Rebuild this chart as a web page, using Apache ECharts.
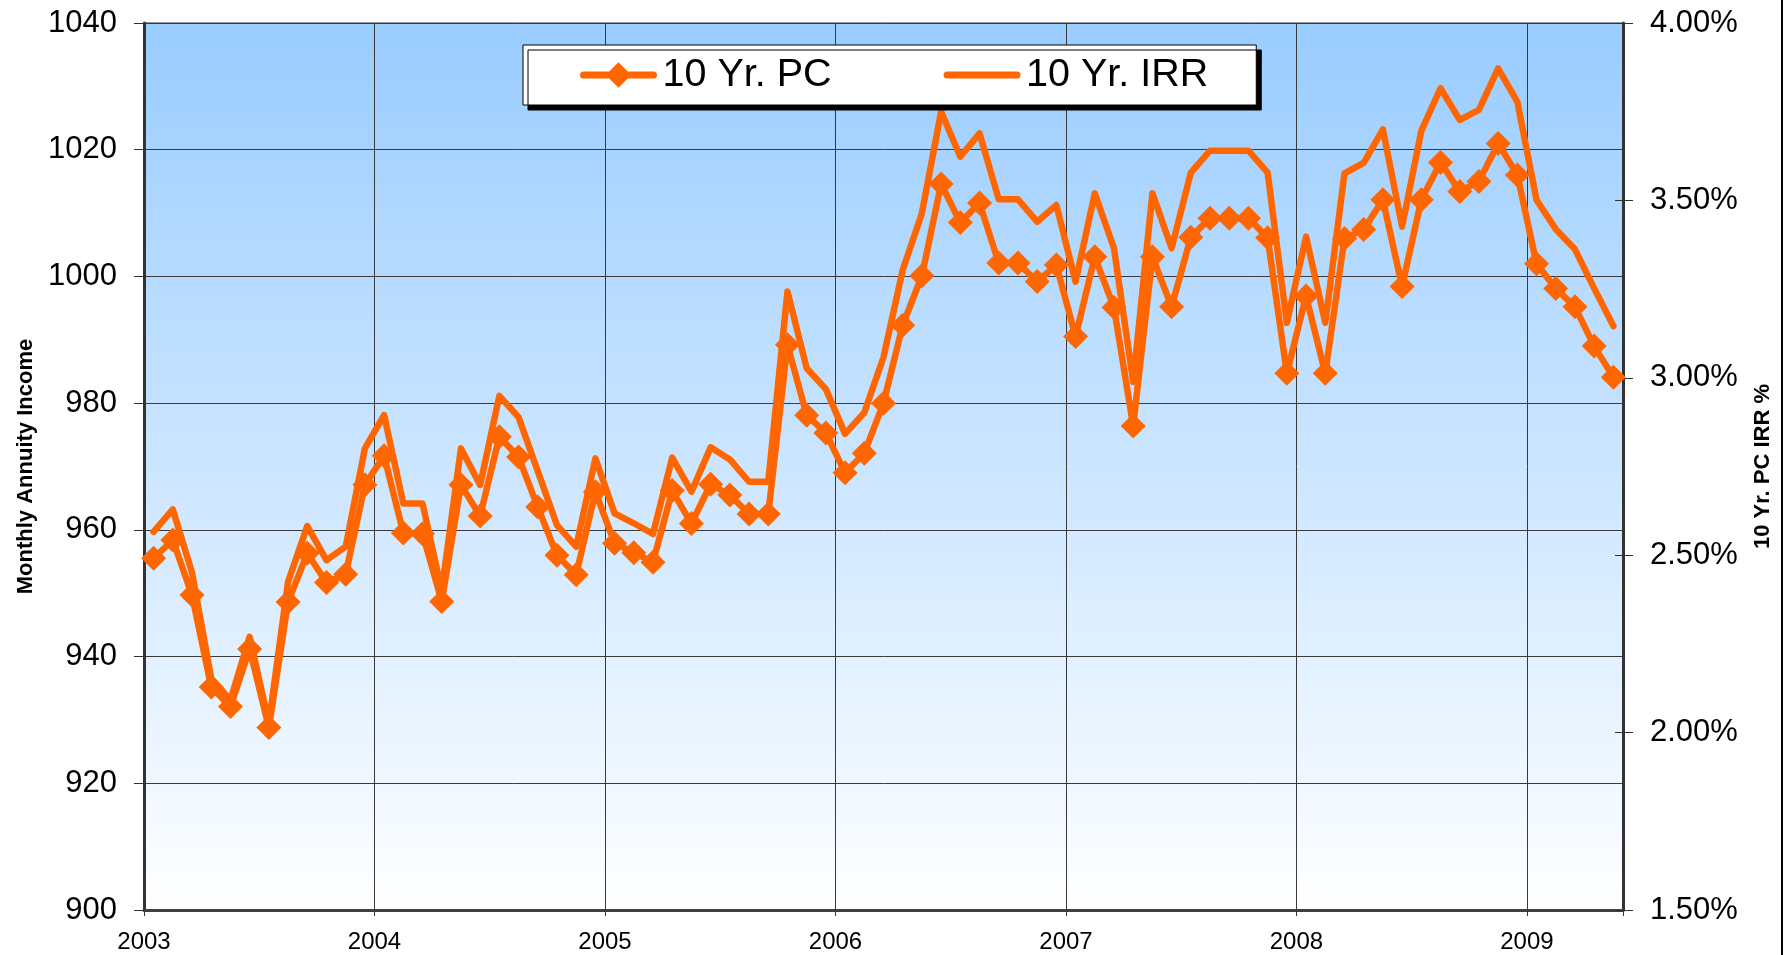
<!DOCTYPE html>
<html>
<head>
<meta charset="utf-8">
<script src="https://cdn.jsdelivr.net/npm/echarts@6/dist/echarts.min.js"></script>
<style>
html,body{margin:0;padding:0;background:#fff;}
#chart{width:1790px;height:955px;}
</style>
</head>
<body>
<div id="chart"></div>
<script>
// Monthly categories, Jan 2003 .. May 2009
const months = [
  '2003-01','2003-02','2003-03','2003-04','2003-05','2003-06','2003-07','2003-08','2003-09','2003-10','2003-11','2003-12',
  '2004-01','2004-02','2004-03','2004-04','2004-05','2004-06','2004-07','2004-08','2004-09','2004-10','2004-11','2004-12',
  '2005-01','2005-02','2005-03','2005-04','2005-05','2005-06','2005-07','2005-08','2005-09','2005-10','2005-11','2005-12',
  '2006-01','2006-02','2006-03','2006-04','2006-05','2006-06','2006-07','2006-08','2006-09','2006-10','2006-11','2006-12',
  '2007-01','2007-02','2007-03','2007-04','2007-05','2007-06','2007-07','2007-08','2007-09','2007-10','2007-11','2007-12',
  '2008-01','2008-02','2008-03','2008-04','2008-05','2008-06','2008-07','2008-08','2008-09','2008-10','2008-11','2008-12',
  '2009-01','2009-02','2009-03','2009-04','2009-05'
];
const yearLabels = ['2003','2004','2005','2006','2007','2008','2009'];

// 10 Yr. PC — monthly annuity income (left axis)
const pcValues = [
  955.5, 958.4, 949.7, 935.2, 932.1, 941.2, 928.8, 948.6, 956.3, 951.7, 953.0, 967.1,
  971.7, 959.5, 959.4, 948.7, 967.1, 962.2, 974.7, 971.5, 963.6, 956.0, 952.9, 966.0,
  957.9, 956.4, 954.9, 966.2, 961.0, 967.2, 965.5, 962.5, 962.5, 989.2, 978.1, 975.3,
  969.0, 972.1, 980.0, 992.3, 1000.1, 1014.6, 1008.5, 1011.6, 1002.1, 1002.1, 999.2, 1001.8,
  990.5, 1003.1, 995.1, 976.4, 1003.1, 995.2, 1006.2, 1009.2, 1009.2, 1009.2, 1006.1, 984.7,
  996.9, 984.7, 1006.0, 1007.4, 1012.1, 998.4, 1012.1, 1018.0, 1013.4, 1015.0, 1021.0, 1016.0,
  1002.0, 998.1, 995.2, 989.0, 984.1
];

// 10 Yr. IRR — percent (right axis)
const irrValues = [
  2.566, 2.629, 2.451, 2.153, 2.092, 2.270, 2.026, 2.425, 2.582, 2.486, 2.524, 2.801,
  2.895, 2.646, 2.646, 2.400, 2.801, 2.698, 2.949, 2.889, 2.737, 2.585, 2.524, 2.773,
  2.618, 2.590, 2.560, 2.775, 2.679, 2.804, 2.770, 2.707, 2.707, 3.243, 3.027, 2.968,
  2.842, 2.902, 3.058, 3.304, 3.464, 3.750, 3.623, 3.689, 3.503, 3.503, 3.440, 3.487,
  3.271, 3.520, 3.365, 2.989, 3.520, 3.365, 3.578, 3.640, 3.640, 3.640, 3.578, 3.155,
  3.398, 3.155, 3.576, 3.606, 3.700, 3.426, 3.696, 3.816, 3.727, 3.755, 3.872, 3.778,
  3.501, 3.419, 3.362, 3.252, 3.146
];

const leftTicks = {min: 900, max: 1040, interval: 20};
const rightTicks = {min: 1.5, max: 4.0, interval: 0.5};

const FONT = '"Liberation Sans", Arial, sans-serif';
const ORANGE = '#FF6600';

const chart = echarts.init(document.getElementById('chart'), null, {renderer: 'canvas'});
chart.setOption({
  animation: false,
  backgroundColor: '#ffffff',
  textStyle: {fontFamily: FONT},
  grid: {
    left: 144, right: 167, top: 23, bottom: 45,
    outerBoundsMode: 'none',
    containLabel: false,
    show: true,
    borderColor: '#9a9a9a',
    borderWidth: 2,
    backgroundColor: {
      type: 'linear', x: 0, y: 0, x2: 0, y2: 1,
      colorStops: [
        {offset: 0, color: '#99CCFF'},
        {offset: 1, color: '#FFFFFF'}
      ]
    }
  },
  legend: {
    left: 523, top: 45,
    orient: 'horizontal',
    padding: [10, 48, 10, 57],
    itemGap: 112,
    itemWidth: 70,
    itemHeight: 32,
    backgroundColor: '#ffffff',
    borderColor: '#000000',
    borderWidth: 1,
    borderRadius: 0,
    shadowColor: '#000000',
    shadowBlur: 0,
    shadowOffsetX: 5,
    shadowOffsetY: 5,
    lineStyle: {width: 7, cap: 'round'},
    textStyle: {fontFamily: FONT, fontSize: 39.5, lineHeight: 32, color: '#000', padding: [0, 0, 0, 4]},
    data: [
      {name: '10 Yr. PC'},
      {name: '10 Yr. IRR', itemStyle: {opacity: 0}}
    ]
  },
  xAxis: [
    {
      type: 'category',
      data: months,
      boundaryGap: true,
      show: false
    },
    {
      type: 'value',
      min: 0, max: months.length, interval: 12,
      position: 'bottom',
      axisLine: {show: true, lineStyle: {color: '#404040', width: 3}},
      axisTick: {show: true, inside: false, length: 6, lineStyle: {color: '#333', width: 1}},
      axisLabel: {
        show: true, margin: 20, fontSize: 24, color: '#000', fontFamily: FONT,
        formatter: v => (v % 12 === 0 ? yearLabels[v / 12] || '' : '')
      },
      splitLine: {show: true, lineStyle: {color: '#3a3a3a', width: 1}}
    }
  ],
  yAxis: [
    {
      type: 'value',
      position: 'left',
      min: leftTicks.min, max: leftTicks.max, interval: leftTicks.interval,
      name: 'Monthly Annuity Income',
      nameLocation: 'middle',
      nameGap: 106,
      nameTextStyle: {fontFamily: FONT, fontSize: 22, fontWeight: 'bold', color: '#000'},
      axisLine: {show: true, lineStyle: {color: '#333', width: 3}},
      axisTick: {show: true, length: 10, lineStyle: {color: '#333', width: 1}},
      axisLabel: {margin: 27, fontSize: 31, color: '#000', fontFamily: FONT,
        formatter: v => String(v)},
      splitLine: {show: true, lineStyle: {color: '#3a3a3a', width: 1}}
    },
    {
      type: 'value',
      position: 'right',
      min: rightTicks.min, max: rightTicks.max, interval: rightTicks.interval,
      name: '10 Yr. PC IRR %',
      nameLocation: 'middle',
      nameGap: 129,
      nameTextStyle: {fontFamily: FONT, fontSize: 22, fontWeight: 'bold', color: '#000'},
      axisLine: {show: true, lineStyle: {color: '#333', width: 3}},
      axisTick: {show: true, length: 10, lineStyle: {color: '#333', width: 1}},
      axisLabel: {margin: 27, fontSize: 31, color: '#000', fontFamily: FONT,
        formatter: v => v.toFixed(2) + '%'},
      splitLine: {show: false}
    },
    {
      type: 'value',
      position: 'right',
      min: rightTicks.min, max: rightTicks.max, interval: rightTicks.interval,
      axisLine: {show: false},
      axisTick: {show: true, inside: true, length: 8, lineStyle: {color: '#333', width: 1}},
      axisLabel: {show: false},
      splitLine: {show: false}
    }
  ],
  series: [
    {
      name: '10 Yr. PC',
      type: 'line',
      xAxisIndex: 0,
      yAxisIndex: 0,
      data: pcValues,
      symbol: 'diamond',
      symbolSize: 25,
      showAllSymbol: true,
      lineStyle: {color: ORANGE, width: 6.5, cap: 'round', join: 'round'},
      itemStyle: {color: ORANGE, borderWidth: 0},
      z: 3
    },
    {
      name: '10 Yr. IRR',
      type: 'line',
      xAxisIndex: 0,
      yAxisIndex: 1,
      data: irrValues,
      symbol: 'none',
      lineStyle: {color: ORANGE, width: 6.5, cap: 'round', join: 'round'},
      itemStyle: {color: ORANGE},
      z: 2
    }
  ],
  graphic: [
    {
      type: 'line',
      shape: {x1: 1782, y1: 0, x2: 1782, y2: 955},
      style: {stroke: '#000', lineWidth: 2},
      silent: true
    }
  ]
});
</script>
</body>
</html>
